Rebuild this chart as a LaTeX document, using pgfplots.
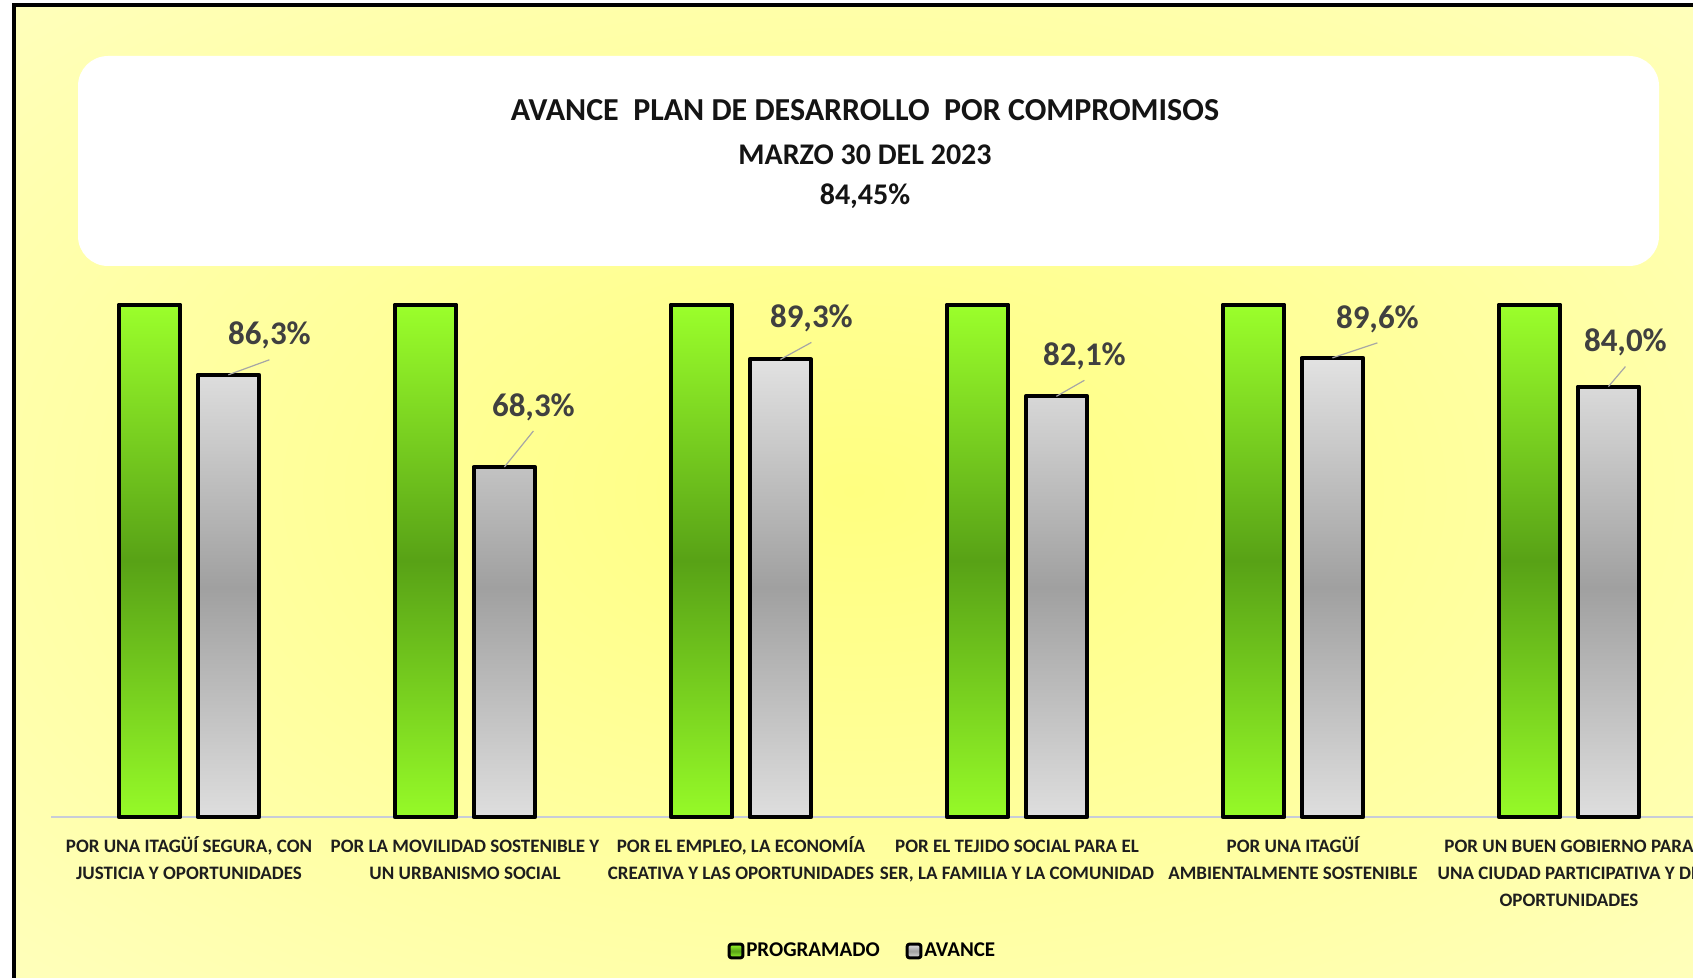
\documentclass[border=0pt]{standalone}
\usepackage{pgfplots}
\pgfplotsset{compat=1.18}
\usepackage{fontspec}
\setmainfont{Carlito}
\definecolor{grnTop}{RGB}{155,255,43}
\definecolor{grnMid}{RGB}{88,162,22}
\definecolor{grnBot}{RGB}{150,250,40}
\definecolor{gryTop}{RGB}{226,226,226}
\definecolor{gryMid}{RGB}{160,160,160}
\definecolor{gryBot}{RGB}{222,222,222}
\definecolor{bgIn}{RGB}{255,255,128}
\definecolor{bgMid}{RGB}{255,255,170}
\definecolor{bgOut}{RGB}{255,255,216}
\definecolor{bgCorner}{RGB}{255,255,232}
\definecolor{lblc}{RGB}{64,64,64}
\definecolor{titc}{RGB}{20,20,20}
\definecolor{catc}{RGB}{30,30,30}
\definecolor{axc}{RGB}{200,204,216}
\definecolor{leadc}{RGB}{166,166,166}
\pgfdeclareradialshading{bgshade}{\pgfpoint{0bp}{0bp}}{color(0bp)=(bgIn); color(26bp)=(bgMid); color(52bp)=(bgOut); color(71bp)=(bgCorner)}
\begin{document}
\begin{tikzpicture}
\useasboundingbox (0,0) rectangle (846.5pt,-489pt);
\begin{scope}
\clip (0,0) rectangle (846.5pt,-489pt);
\fill[white] (0,0) rectangle (846.5pt,-489pt);
\shade[shading=bgshade] (7pt,-2.35pt) rectangle (846.5pt,-489pt);
\draw[black, line width=2pt] (7pt,-600pt) -- (7pt,-2.35pt) -- (900pt,-2.35pt);
\fill[white, rounded corners=15pt] (39pt,-28pt) rectangle (829.5pt,-133pt);
\node[font=\bfseries\fontsize{16}{19}\selectfont, text=titc] at (432.5pt,-55pt) {AVANCE\ \ PLAN DE DESARROLLO\ \ POR COMPROMISOS};
\node[font=\bfseries\fontsize{15}{19}\selectfont, text=titc] at (432.5pt,-77.3pt) {MARZO 30 DEL 2023};
\node[font=\bfseries\fontsize{15}{19}\selectfont, text=titc] at (432.5pt,-98.3pt) {84,45\%};
\begin{axis}[
  at={(25.5pt,-408.5pt)}, anchor=south west,
  scale only axis, width=828pt, height=256.2pt,
  xmin=-0.5, xmax=5.5, ymin=0, ymax=100,
  clip=false,
  axis x line*=bottom, axis y line=none,
  x axis line style={draw=axc, line width=0.8pt},
  xtick=data, major tick length=0pt, ytick=\empty,
  xticklabels={{POR UNA ITAGÜÍ SEGURA, CON\\JUSTICIA Y OPORTUNIDADES},
               {POR LA MOVILIDAD SOSTENIBLE Y\\UN URBANISMO SOCIAL},
               {POR EL EMPLEO, LA ECONOMÍA\\CREATIVA Y LAS OPORTUNIDADES},
               {POR EL TEJIDO SOCIAL PARA EL\\SER, LA FAMILIA Y LA COMUNIDAD},
               {POR UNA ITAGÜÍ\\AMBIENTALMENTE SOSTENIBLE},
               {POR UN BUEN GOBIERNO PARA\\UNA CIUDAD PARTICIPATIVA Y DE\\OPORTUNIDADES}},
  typeset ticklabels with strut,
  xticklabel style={anchor=north, yshift=-5pt, align=center, text=catc,
    font=\bfseries\fontsize{9.5}{13.5}\selectfont},
  legend style={at={(0.490,-0.2615)}, anchor=center, draw=none, fill=none,
    font=\bfseries\fontsize{10.5}{12}\selectfont, text=black,
    /tikz/every even column/.append style={column sep=12pt},
    nodes={inner sep=1pt}},
  legend columns=2,
]
\addplot[ybar, bar width=30.8pt, bar shift=-19.7pt, draw=black, line width=2pt, line join=round,
  top color=grnTop, bottom color=grnBot, middle color=grnMid,
  legend image code/.code={\draw[draw=black, line width=1.5pt, fill=grnMid!75!grnTop, rounded corners=1pt] (0pt,-3.4pt) rectangle (6.8pt,3.4pt);}]
  coordinates {(0,100) (1,100) (2,100) (3,100) (4,100) (5,100)};
\addlegendentry{PROGRAMADO}
\addplot[ybar, bar width=30.8pt, bar shift=19.7pt, draw=black, line width=2pt, line join=round,
  top color=gryTop, bottom color=gryBot, middle color=gryMid,
  legend image code/.code={\draw[draw=black, line width=1.5pt, fill=gryMid!80!gryTop, rounded corners=1pt] (0pt,-3.4pt) rectangle (6.8pt,3.4pt);}]
  coordinates {(0,86.3) (1,68.3) (2,89.3) (3,82.1) (4,89.6) (5,84.0)};
\addlegendentry{AVANCE}
\draw[leadc, line width=0.6pt] (axis cs:0,86.3) ++(19.7pt,0pt) -- ++(20.5pt,7.5pt) ++(0pt,12pt) node[font=\bfseries\fontsize{16.5}{19}\selectfont, text=lblc, inner sep=0pt]{86,3\%};
\draw[leadc, line width=0.6pt] (axis cs:1,68.3) ++(19.7pt,0pt) -- ++(14.5pt,18pt) ++(0pt,12pt) node[font=\bfseries\fontsize{16.5}{19}\selectfont, text=lblc, inner sep=0pt]{68,3\%};
\draw[leadc, line width=0.6pt] (axis cs:2,89.3) ++(19.7pt,0pt) -- ++(15.5pt,8.5pt) ++(0pt,12pt) node[font=\bfseries\fontsize{16.5}{19}\selectfont, text=lblc, inner sep=0pt]{89,3\%};
\draw[leadc, line width=0.6pt] (axis cs:3,82.1) ++(19.7pt,0pt) -- ++(14pt,8pt) ++(0pt,12pt) node[font=\bfseries\fontsize{16.5}{19}\selectfont, text=lblc, inner sep=0pt]{82,1\%};
\draw[leadc, line width=0.6pt] (axis cs:4,89.6) ++(19.7pt,0pt) -- ++(22.5pt,7.5pt) ++(0pt,12pt) node[font=\bfseries\fontsize{16.5}{19}\selectfont, text=lblc, inner sep=0pt]{89,6\%};
\draw[leadc, line width=0.6pt] (axis cs:5,84.0) ++(19.7pt,0pt) -- ++(8.5pt,10pt) ++(0pt,12pt) node[font=\bfseries\fontsize{16.5}{19}\selectfont, text=lblc, inner sep=0pt]{84,0\%};
\end{axis}
\end{scope}
\end{tikzpicture}
\end{document}
